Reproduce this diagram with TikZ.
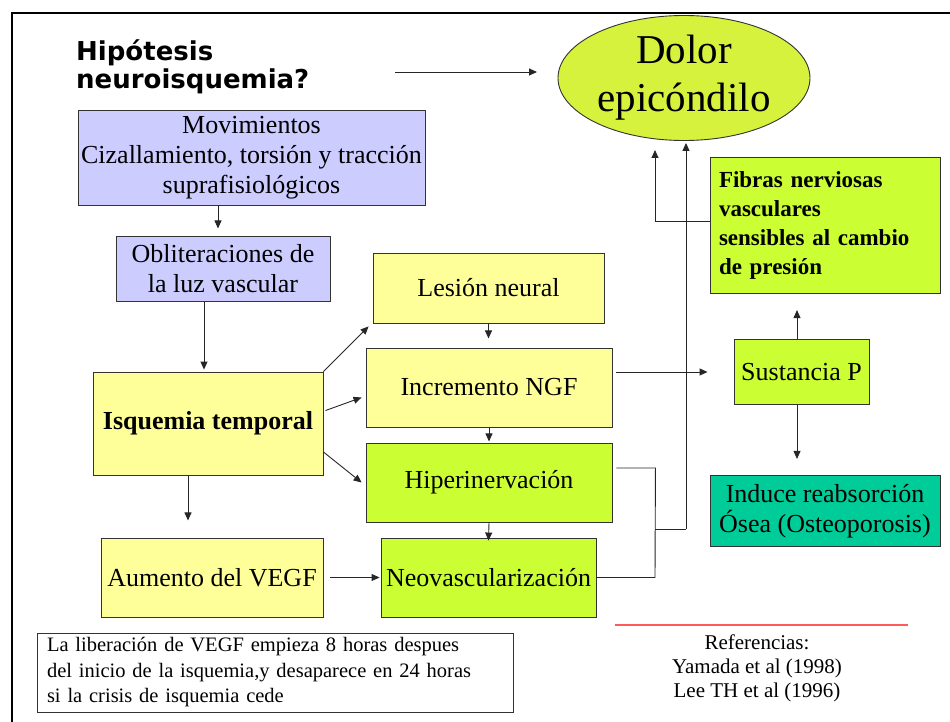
\documentclass[tikz,border=0pt]{standalone}
\usepackage{fontspec}
\setmainfont{Liberation Serif}
\newfontfamily\titlefont{DejaVu Sans}
\usetikzlibrary{arrows.meta,calc,shapes.geometric}
\definecolor{lav}{RGB}{204,204,255}
\definecolor{lyel}{RGB}{255,255,153}
\definecolor{lime}{RGB}{204,255,51}
\definecolor{ellc}{RGB}{214,242,60}
\definecolor{teal2}{RGB}{0,204,153}
\definecolor{redl}{RGB}{255,90,90}
\tikzset{
  box/.style={draw=black!80, line width=0.9pt, rectangle, align=center, inner sep=0pt,
    font=\fontsize{26}{30}\selectfont},
  arr/.style={-{Triangle[length=8pt,width=7pt]}, line width=0.9pt, draw=black!85},
  ln/.style={line width=0.9pt, draw=black!85},
}
\begin{document}
\begin{tikzpicture}[x=1pt,y=-1pt]
\useasboundingbox (0,0) rectangle (950,722);
% frame
\draw[line width=1.6pt] (12,722) -- (12,13) -- (950,13);

% title
\node[anchor=west, align=left, font=\titlefont\bfseries\fontsize{26}{28}\selectfont, inner sep=0pt] (title) at (76,67) {Hipótesis\\neuroisquemia?};
\coordinate (ta) at (395,72);
\coordinate (tb) at (537,72);

% ellipse
\node[ellipse, draw=black!80, line width=0.9pt, fill=ellc, minimum width=252pt, minimum height=125pt, inner sep=0pt,
  align=center, font=\fontsize{41}{48}\selectfont] (dolor) at (684,78) {Dolor\\epicóndilo};

% left column
\node[box, fill=lav, minimum width=347pt, minimum height=95pt] (mov) at (251.5,157.5)
  {Movimientos\\Cizallamiento, torsión y tracción\\suprafisiológicos};
\node[box, fill=lav, minimum width=214pt, minimum height=65pt] (obl) at (223,269)
  {Obliteraciones de\\la luz vascular};
\node[box, fill=lyel, minimum width=230pt, minimum height=103pt, font=\fontsize{26}{30}\selectfont\bfseries] (isq) at (208,423.5)
  {Isquemia temporal};
\node[box, fill=lyel, minimum width=222pt, minimum height=79pt] (veg) at (212,577.5)
  {Aumento del VEGF};

% middle column
\node[box, fill=lyel, minimum width=231pt, minimum height=70pt] (les) at (488.5,288) {Lesión neural};
\node[box, fill=lyel, minimum width=246pt, minimum height=79pt] (inc) at (489,387.5) {Incremento NGF};
\node[box, fill=lime, minimum width=246pt, minimum height=79pt] (hip) at (489,482.5) {Hiperinervación};
\node[box, fill=lime, minimum width=215pt, minimum height=79pt] (neo) at (488.5,577.5) {Neovascularización};

% right column
\node[box, fill=lime, minimum width=230pt, minimum height=136pt, text width=212pt, align=left,
  font=\fontsize{23}{29}\selectfont\bfseries] (fib) at (825,225)
  {Fibras nerviosas\\vasculares\\sensibles al cambio\\de presión};
\node[box, fill=lime, minimum width=135pt, minimum height=65pt] (sus) at (801.5,372) {Sustancia P};
\node[box, fill=teal2, minimum width=230pt, minimum height=71pt] (ind) at (825,511)
  {Induce reabsorción\\Ósea (Osteoporosis)};

% note
\node[box, fill=white, minimum width=476pt, minimum height=79pt, text width=456pt, align=left,
  font=\fontsize{20.5}{25.5}\selectfont] (note) at (275,672.5)
  {La liberación de VEGF empieza 8 horas despues\\del inicio de la isquemia,y desaparece en 24 horas\\si la crisis de isquemia cede};

% references
\draw[line width=1.5pt, redl] (615,625) -- (908,625);
\node[align=center, inner sep=0pt, font=\fontsize{21}{24}\selectfont] (ref) at (757,668)
  {Referencias:\\Yamada et al (1998)\\Lee TH et al (1996)};

% connectors
\draw[arr] (ta) -- (tb);
\draw[arr] ($(mov.south)+(-33.5,0)$) -- ++(0,23);
\draw[arr] ($(obl.south)+(-19,0)$) -- ($(isq.north)+(-4,-2)$);
\draw[arr] (isq.north east) -- ($(les.south west)+(-4,3)$);
\draw[arr] ($(isq.north east)+(2,39)$) -- ($(inc.west)+(-4,10)$);
\draw[arr] ($(isq.east)+(0,28.5)$) -- ($(hip.west)+(-4,0)$);
\draw[arr] ($(isq.south)+(-20,0)$) -- ++(0,45);
\draw[arr, shorten <=7pt, shorten >=1pt] (veg.east) -- (neo.west);
\draw[arr] (les.south) -- ++(0,15);
\draw[arr] (inc.south) -- ++(0,14);
\draw[arr] (hip.south) -- ($(neo.north)+(0,3)$);
\draw[arr] ($(inc.east)+(4,-15.5)$) -- ($(sus.west)+(-26,0)$);
\draw[arr] ($(sus.north)+(-4.5,0)$) -- ++(0,-29);
\draw[arr] ($(sus.south)+(-4.5,0)$) -- ++(0,54);

\coordinate (j1) at (655,529);
\coordinate (j2) at (686,529);
\draw[ln] (neo.east) -- (neo.east -| j1) -- ($(hip.east)+(43,-14.5)$) -- ($(hip.east)+(4,-14.5)$);
\draw[ln] (j1) -- (j2);
\draw[arr] (j2) -- ($(j2 |- dolor.south)+(0,2)$);
\coordinate (f1) at (655,221);
\draw[arr] ($(fib.west)+(0,-4)$) -- (f1) -- ++(0,-71);
\end{tikzpicture}
\end{document}
